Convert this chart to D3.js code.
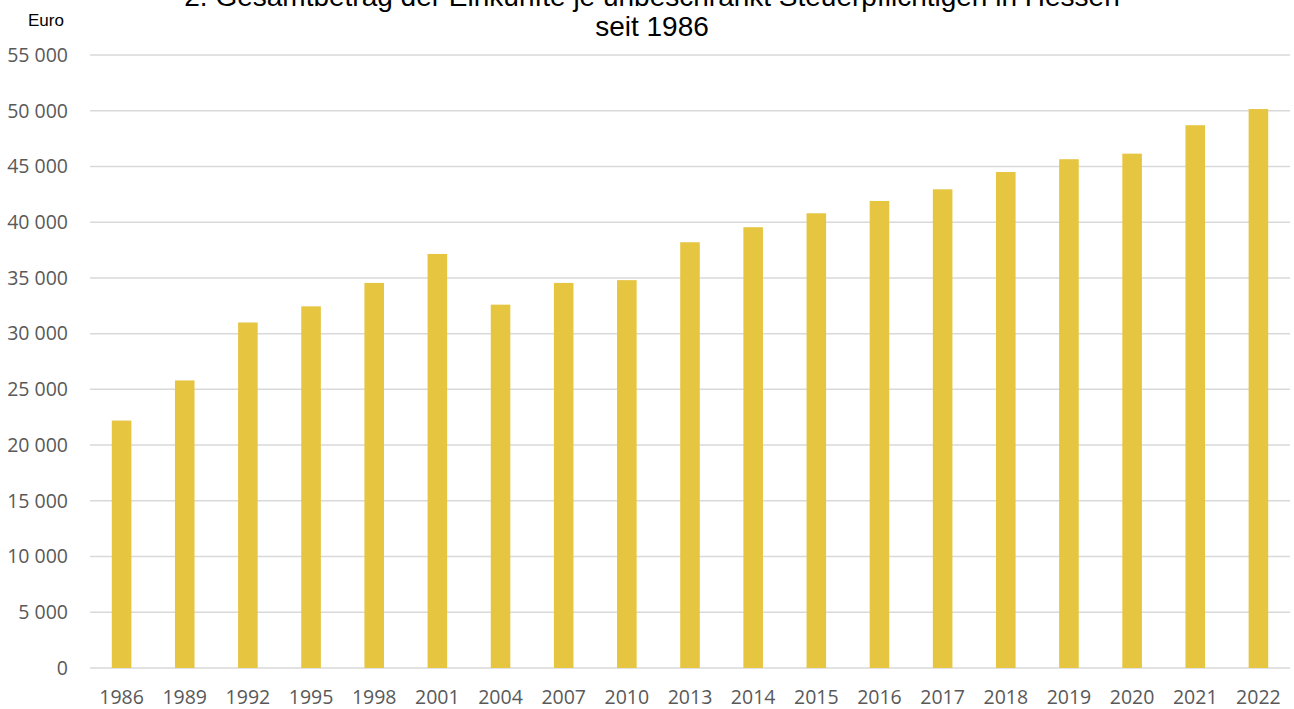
<!DOCTYPE html>
<html>
<head>
<meta charset="utf-8">
<script src="https://cdn.jsdelivr.net/npm/d3@7"></script>
<style>
  body { margin: 0; background: #fff; }
  svg { display: block; }
</style>
</head>
<body>
<div id="chart"></div>
<script>
// Gesamtbetrag der Einkünfte je Steuerpflichtigen, Hessen
var years = ["1986", "1989", "1992", "1995", "1998", "2001", "2004", "2007", "2010",
             "2013", "2014", "2015", "2016", "2017", "2018", "2019", "2020", "2021", "2022"];
var values = [22200, 25800, 31000, 32450, 34550, 37150, 32600, 34550, 34800,
              38200, 39550, 40800, 41900, 42950, 44500, 45650, 46150, 48700, 50150];
var yTicks = [0, 5000, 10000, 15000, 20000, 25000, 30000, 35000, 40000, 45000, 50000, 55000];
var titleLines = ["2. Gesamtbetrag der Einkünfte je unbeschränkt Steuerpflichtigen in Hessen",
                  "seit 1986"];

var width = 1294, height = 709;
var margin = {top: 55, right: 4, bottom: 41, left: 90};

var svg = d3.select("#chart").append("svg")
    .attr("width", width)
    .attr("height", height);

var x = d3.scaleBand()
    .domain(years)
    .range([margin.left, width - margin.right])
    .paddingInner(0.69)
    .paddingOuter(0.345);

var y = d3.scaleLinear()
    .domain([0, 55000])
    .range([height - margin.bottom, margin.top]);

var fmt = function(d) { return d3.format(",")(d).replace(/,/g, " "); };

// gridlines
svg.append("g")
  .selectAll("line")
  .data(yTicks)
  .enter().append("line")
    .attr("x1", margin.left)
    .attr("x2", width - margin.right)
    .attr("y1", function(d) { return y(d); })
    .attr("y2", function(d) { return y(d); })
    .attr("stroke", "#d9d9d9")
    .attr("stroke-width", 1.5);

// y labels
svg.append("g")
  .selectAll("text")
  .data(yTicks)
  .enter().append("text")
    .attr("x", 68)
    .attr("y", function(d) { return y(d); })
    .attr("dy", "0.35em")
    .attr("text-anchor", "end")
    .attr("font-family", "'Open Sans', sans-serif")
    .attr("font-size", 19.5)
    .attr("fill", "#595959")
    .text(fmt);

// bars
svg.append("g")
  .selectAll("rect")
  .data(values)
  .enter().append("rect")
    .attr("x", function(d, i) { return x(years[i]); })
    .attr("width", x.bandwidth())
    .attr("y", function(d) { return y(d); })
    .attr("height", function(d) { return y(0) - y(d); })
    .attr("fill", "#e6c540");

// x labels
svg.append("g")
  .selectAll("text")
  .data(years)
  .enter().append("text")
    .attr("x", function(d) { return x(d) + x.bandwidth() / 2; })
    .attr("y", 704)
    .attr("text-anchor", "middle")
    .attr("font-family", "'Open Sans', sans-serif")
    .attr("font-size", 19.5)
    .attr("fill", "#595959")
    .text(function(d) { return d; });

// unit
svg.append("text")
    .attr("x", 46)
    .attr("y", 26)
    .attr("text-anchor", "middle")
    .attr("font-family", "'Liberation Sans', Arial, sans-serif")
    .attr("font-size", 17)
    .attr("fill", "#000")
    .text("Euro");

// title (first line runs off the top like in the original)
svg.append("g")
  .selectAll("text")
  .data(titleLines)
  .enter().append("text")
    .attr("x", 652)
    .attr("y", function(d, i) { return 6 + i * 30; })
    .attr("text-anchor", "middle")
    .attr("font-family", "'Liberation Sans', Arial, sans-serif")
    .attr("font-size", 28)
    .attr("fill", "#000")
    .text(function(d) { return d; });
</script>
</body>
</html>
